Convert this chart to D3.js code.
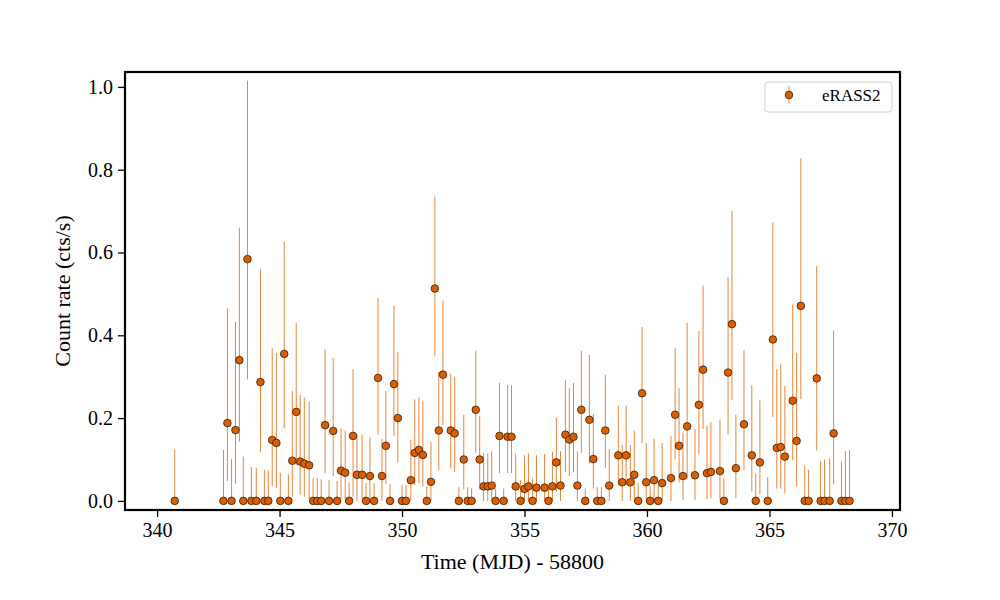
<!DOCTYPE html>
<html><head><meta charset="utf-8">
<script src="https://cdn.jsdelivr.net/npm/d3@7"></script>
<style>body{margin:0;background:#fff}svg{display:block}text{font-family:"Liberation Serif","DejaVu Serif",serif}</style>
</head><body><svg id="c" width="1000" height="600"></svg>
<script>
const T0 = 340;
const timeOffset = [0.72,2.71,2.87,3.04,3.20,3.36,3.52,3.69,3.85,4.05,4.22,4.38,4.54,4.70,4.87,5.03,5.19,5.36,5.52,5.68,5.84,6.01,6.21,6.37,6.54,6.70,6.86,7.02,7.19,7.35,7.51,7.68,7.84,8.00,8.16,8.37,8.53,8.69,8.86,9.02,9.18,9.34,9.51,9.67,9.83,10.00,10.16,10.36,10.52,10.69,10.85,11.01,11.18,11.34,11.50,11.67,11.99,12.15,12.32,12.52,12.68,12.84,13.01,13.17,13.33,13.50,13.66,13.82,13.98,14.15,14.31,14.47,14.64,14.84,15.00,15.16,15.33,15.49,15.82,15.98,16.14,16.30,16.47,16.67,16.83,17.00,17.16,17.32,17.48,17.65,17.81,17.97,18.14,18.30,18.46,18.83,18.99,19.15,19.32,19.48,19.64,19.80,19.97,20.13,20.29,20.46,20.62,20.98,21.15,21.31,21.47,21.64,21.96,22.12,22.29,22.45,22.61,22.98,23.14,23.31,23.47,23.63,23.96,24.28,24.44,24.61,24.93,25.14,25.30,25.46,25.63,25.95,26.11,26.28,26.44,26.60,26.93,27.09,27.25,27.46,27.62,27.94,28.10,28.27];
const rate = [0,0,.188,0,.171,.34,0,.584,0,0,.287,0,0,.147,.14,0,.355,0,.097,.215,.095,.09,.086,0,0,0,.183,0,.169,0,.073,.068,0,.157,.063,.063,0,.06,0,.297,.06,.133,0,.282,.2,0,0,.05,.116,.123,.111,0,.046,.513,.17,.305,.17,.163,0,.1,0,0,.22,.1,.035,.035,.037,0,.157,0,.155,.155,.035,0,.029,.035,0,.032,.032,0,.035,.093,.037,.16,.148,.155,.037,.22,0,.196,.101,0,0,.17,.037,.11,.045,.11,.045,.063,0,.26,.045,0,.05,0,.043,.055,.208,.133,.06,.18,.062,.232,.317,.067,.07,.072,0,.31,.427,.079,.185,.11,0,.093,0,.39,.128,.13,.107,.242,.145,.471,0,0,.296,0,0,0,.163,0,0,0];
const rateLo = [0,0,.048,0,.041,.143,0,.294,0,0,.118,0,0,.036,.031,0,.176,0,.01,.087,.015,.01,.005,0,0,0,.067,0,.06,0,.005,.005,0,.01,0,.004,0,.004,0,.16,0,.041,0,.156,.093,0,0,0,.038,.043,.035,0,0,.351,.075,.183,.078,.07,0,.028,0,0,.116,.028,0,0,0,0,.067,0,.067,.067,0,0,0,0,0,0,0,0,0,.023,0,.069,.06,.069,0,.116,0,.09,.03,0,0,.08,0,.038,0,.038,0,.006,0,.14,0,0,0,0,0,0,.1,.045,.002,.052,.002,.112,.174,.004,.006,.004,0,.16,.243,.006,.074,.023,0,.016,0,.203,.03,.03,.018,.098,.035,.246,0,0,.122,0,0,0,.04,0,0,0];
const rateHi = [.123,.123,.465,.101,.432,.66,.107,1.015,.082,.08,.56,.075,.073,.369,.357,.068,.625,.064,.265,.43,.256,.25,.24,.055,.055,.052,.366,.05,.345,.048,.175,.17,.045,.318,.16,.16,.043,.154,.043,.49,.15,.266,.04,.471,.36,.038,.038,.148,.245,.25,.24,.035,.142,.735,.312,.484,.307,.3,.033,.208,.033,.03,.363,.205,.115,.115,.12,.03,.285,.03,.28,.28,.115,.05,.11,.115,.054,.11,.113,.03,.118,.2,.12,.293,.272,.285,.12,.363,.03,.353,.21,.033,.033,.305,.125,.23,.135,.23,.135,.17,.043,.42,.14,.035,.15,.038,.14,.157,.37,.272,.165,.43,.174,.41,.52,.181,.19,.196,.055,.54,.70,.208,.364,.279,.065,.243,.058,.673,.318,.33,.277,.475,.357,.828,.085,.075,.567,.095,.1,.103,.412,.095,.12,.123];
const xTicks = [340,345,350,355,360,365,370];
const yTicks = [0,0.2,0.4,0.6,0.8,1.0];
const seriesName = "eRASS2";

const svg = d3.select("#c");
const L=125,R=900,T=72,B=510;
const x = d3.scaleLinear().domain([338.69,370.33]).range([L,R]);
const y = d3.scaleLinear().domain([-0.022,1.036]).range([B,T]);
const errColor="#e8853a", fill="#d95f02", edge="#3b1c05";
const data = timeOffset.map((t,i)=>({t:T0+t,v:rate[i],lo:rateLo[i],hi:rateHi[i]}));

svg.append("g").selectAll("line").data(data).join("line")
  .attr("x1",d=>x(d.t)).attr("x2",d=>x(d.t)).attr("y1",d=>y(d.lo)).attr("y2",d=>y(d.hi))
  .attr("stroke",errColor).attr("stroke-width",1);
svg.append("g").selectAll("circle").data(data).join("circle")
  .attr("cx",d=>x(d.t)).attr("cy",d=>y(d.v)).attr("r",3.8)
  .attr("fill",fill).attr("stroke",edge).attr("stroke-width",0.8);

const ax = svg.append("g").attr("transform",`translate(0,${B})`)
  .call(d3.axisBottom(x).tickValues(xTicks).tickSize(7).tickPadding(6).tickFormat(d3.format("d")));
const ay = svg.append("g").attr("transform",`translate(${L},0)`)
  .call(d3.axisLeft(y).tickValues(yTicks).tickSize(7).tickPadding(5).tickFormat(d3.format(".1f")));
[ax,ay].forEach(a=>{a.select(".domain").remove();a.selectAll("line").attr("stroke","#000").attr("stroke-width",1.3);
  a.selectAll("text").attr("font-size",20).attr("fill","#000").attr("font-family","Liberation Serif, serif");});
svg.append("rect").attr("x",L).attr("y",T).attr("width",R-L).attr("height",B-T).attr("fill","none").attr("stroke","#000").attr("stroke-width",2.2);

svg.append("text").attr("x",(L+R)/2).attr("y",569).attr("text-anchor","middle").attr("font-size",22).text("Time (MJD) - 58800");
svg.append("text").attr("transform",`translate(70,${(T+B)/2}) rotate(-90)`).attr("text-anchor","middle").attr("font-size",22).text("Count rate (cts/s)");

const lg = svg.append("g");
lg.append("rect").attr("x",765).attr("y",82).attr("width",127).attr("height",30).attr("rx",3)
  .attr("fill","#fff").attr("stroke","#d0d0d0").attr("stroke-width",1);
lg.append("line").attr("x1",789).attr("x2",789).attr("y1",86).attr("y2",104).attr("stroke",errColor).attr("stroke-width",1);
lg.append("circle").attr("cx",789).attr("cy",95).attr("r",3.8).attr("fill",fill).attr("stroke",edge).attr("stroke-width",0.8);
lg.append("text").attr("x",822).attr("y",101).attr("font-size",17).text(seriesName);
</script></body></html>
